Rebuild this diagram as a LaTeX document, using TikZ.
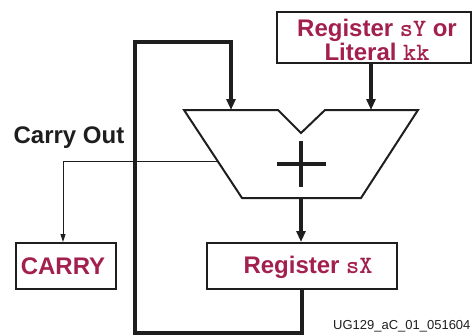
\documentclass[tikz,border=0pt]{standalone}
\usepackage{fontspec}
\setmainfont{Liberation Sans}[BoldFont={* Bold}]
\newfontfamily\codefont{lmmonolt10-bold.otf}
\usetikzlibrary{arrows.meta}
\definecolor{xred}{RGB}{163,32,78}
\definecolor{xline}{RGB}{30,30,30}
\newcommand{\code}[1]{{\codefont\fontsize{25}{24}\selectfont #1}}
\tikzset{
  regbox/.style={draw=xline, line width=2pt, fill=white, inner sep=0pt},
  redtxt/.style={text=xred, font=\fontsize{24}{24}\selectfont\bfseries, align=center},
  thickline/.style={draw=xline, line width=3.2pt},
  thinline/.style={draw=xline, line width=0.9pt},
  bigtip/.style={-{Triangle[length=11pt,width=9pt]}},
  smalltip/.style={-{Triangle[length=8pt,width=5pt]}},
}
\begin{document}
\begin{tikzpicture}[x=1pt,y=-1pt]
\useasboundingbox (0,0) rectangle (475,335);
% boxes
\node[regbox, minimum width=194pt, minimum height=51pt] (sy) at (374,37.5) {};
\node[redtxt] (sytxt) at (377,40) {Register \code{sY} or\\Literal \code{kk}};
\node[regbox, minimum width=190pt, minimum height=46pt] (sx) at (302,266) {};
\node[redtxt] (sxtxt) at (308,267) {Register \code{sX}};
\node[regbox, minimum width=100pt, minimum height=46pt] (carry) at (66,266) {};
\node[redtxt] (carrytxt) at (63,266) {CARRY};
\node[font=\fontsize{24}{24}\selectfont\bfseries, text=xline] (co) at (69,138) {Carry Out};
\node[font=\fontsize{13}{15}\selectfont, text=xline, anchor=east] (ug) at (474,326) {UG129\_aC\_01\_051604};
% adder
\coordinate (tl) at (184,110);
\coordinate (n1) at (278,110);
\coordinate (nb) at (301,133);
\coordinate (n2) at (325,110);
\coordinate (tr) at (418,110);
\coordinate (br) at (361,198);
\coordinate (bl) at (242,198);
\draw[draw=xline, line width=2pt, line join=miter] (tl) -- (n1) -- (nb) -- (n2) -- (tr) -- (br) -- (bl) -- cycle;
\draw[draw=xline, line width=3.2pt] (277,164) -- (326,164) (301,141) -- (301,187);
% carry out
\coordinate (cl) at (217,161);
\coordinate (cc) at (63,161);
\draw[thinline, smalltip] (cl) -- (cc) -- (carry.north -| cc);
% feedback
\coordinate (fa) at (302,333);
\coordinate (fb) at (135,333);
\coordinate (fc) at (135,42);
\coordinate (fd) at (231,42);
\draw[thickline, line join=miter] (sx.south -| fa) -- (fa) -- (fb) -- (fc) -- (fd) -- (231,100);
\draw[thickline, bigtip] (231,95) -- (231,110);
% sY input
\draw[thickline, bigtip] (sy.south -| 371,0) -- (371,110);
% adder output
\draw[thickline, bigtip] (301,198) -- (sx.north -| 301,0);
\end{tikzpicture}
\end{document}
